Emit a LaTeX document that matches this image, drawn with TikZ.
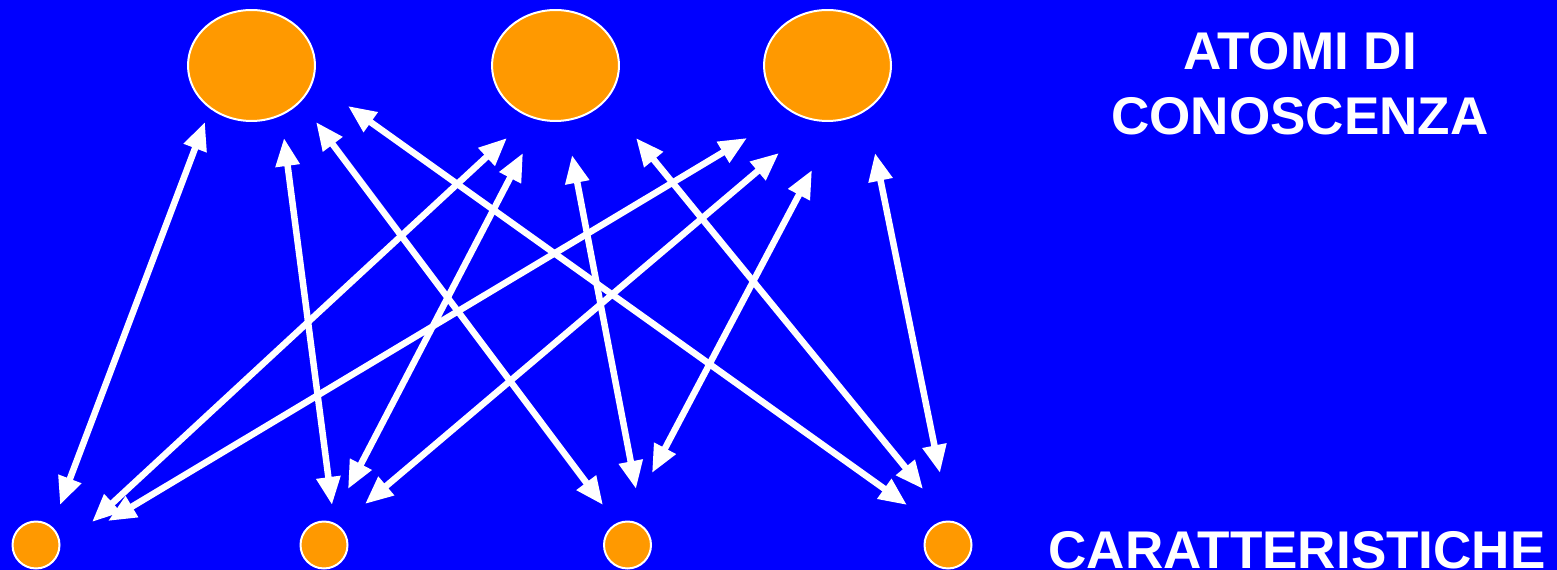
\documentclass[tikz,border=0pt]{standalone}
\usepackage{fontspec}
\setmainfont{Liberation Sans}
\usetikzlibrary{arrows.meta,shapes.geometric}
\definecolor{cfondo}{HTML}{0000FF}
\definecolor{cnaranja}{HTML}{FF9900}
\tikzset{
  atomo/.style={ellipse, draw=white, fill=cnaranja, line width=0.04cm,
    minimum width=2.54cm, minimum height=2.22cm, inner sep=0pt},
  carat/.style={circle, draw=white, fill=cnaranja, line width=0.04cm,
    minimum size=0.94cm, inner sep=0pt},
  flecha/.style={{Triangle[length=0.56cm,width=0.46cm]}-{Triangle[length=0.56cm,width=0.46cm]},
    line width=0.13cm, draw=white},
  etq/.style={font=\fontsize{30.2}{37}\selectfont\bfseries, text=white, align=center, inner sep=0pt},
}

\begin{document}
\begin{tikzpicture}[x=0.02cm, y=-0.02cm]
  \fill[cfondo] (0,0) rectangle (1557,570);
  \useasboundingbox (0,0) rectangle (1557,570);

  % atomi di conoscenza
  \node[atomo] (a1) at (251.5,65.5) {};
  \node[atomo] (a2) at (555.5,65.5) {};
  \node[atomo] (a3) at (827.5,65.5) {};

  % caratteristiche
  \node[carat] (c1) at (36,545) {};
  \node[carat] (c2) at (324,545) {};
  \node[carat] (c3) at (627.5,545) {};
  \node[carat] (c4) at (948,545) {};

  \node[etq] (tatomi) at (1300,84) {ATOMI DI\\CONOSCENZA};
  \node[etq, anchor=base] (tcarat) at (1297,568) {CARATTERISTICHE};

  % extremos de las flechas
  \coordinate (s1) at (205,122);  \coordinate (i1) at (60,505);
  \coordinate (s2) at (284,138);  \coordinate (i2) at (332,505);
  \coordinate (s3) at (316,122);  \coordinate (i3) at (603,505);
  \coordinate (s4) at (348,106);  \coordinate (i4) at (907,505);
  \coordinate (s5) at (507,138);  \coordinate (i5) at (92,522);
  \coordinate (s6) at (523,153);  \coordinate (i6) at (348,489);
  \coordinate (s7) at (572,155);  \coordinate (i7) at (636,489);
  \coordinate (s8) at (636,138);  \coordinate (i8) at (923,489);
  \coordinate (s9) at (747,138);  \coordinate (i9) at (108,521);
  \coordinate (s10) at (779,153); \coordinate (i10) at (365,504);
  \coordinate (s11) at (812,170); \coordinate (i11) at (652,473);
  \coordinate (s12) at (875,153); \coordinate (i12) at (940,473);

  \draw[flecha] (s1) -- (i1);
  \draw[flecha] (s2) -- (i2);
  \draw[flecha] (s3) -- (i3);
  \draw[flecha] (s4) -- (i4);
  \draw[flecha] (s5) -- (i5);
  \draw[flecha] (s6) -- (i6);
  \draw[flecha] (s7) -- (i7);
  \draw[flecha] (s8) -- (i8);
  \draw[flecha] (s9) -- (i9);
  \draw[flecha] (s10) -- (i10);
  \draw[flecha] (s11) -- (i11);
  \draw[flecha] (s12) -- (i12);
\end{tikzpicture}
\end{document}
